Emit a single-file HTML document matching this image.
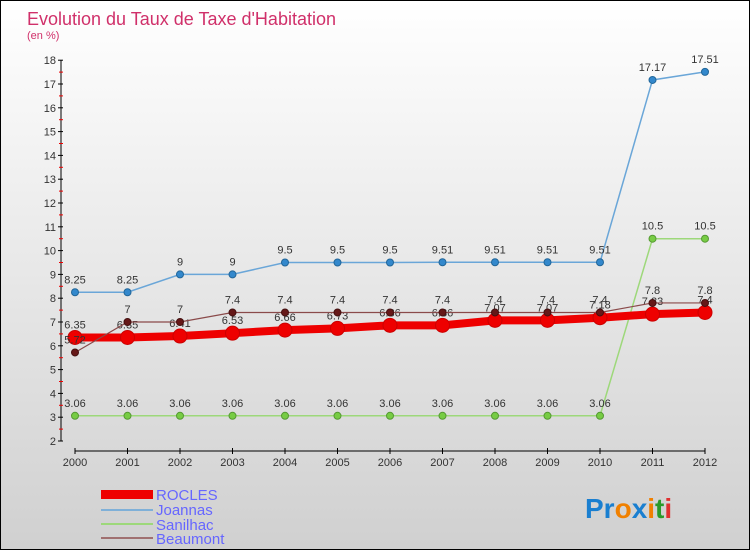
<!DOCTYPE html>
<html><head><meta charset="utf-8"><style>
body{margin:0;width:750px;height:550px;overflow:hidden;font-family:"Liberation Sans",sans-serif}
#wrap{position:relative;width:748px;height:548px;border:1px solid #000;background:linear-gradient(#ffffff,#d0d0d0)}
</style></head><body>
<div id="wrap">
<svg id="chart" width="748" height="548" xmlns="http://www.w3.org/2000/svg">
<text x="26" y="24" font-size="18" fill="#d0306a">Evolution du Taux de Taxe d'Habitation</text>
<text x="26" y="38" font-size="11" fill="#d0306a">(en %)</text>
<g id="axes"></g><g id="series"></g>
<g>
<rect x="100" y="489" width="52" height="9" fill="#e00"/>
<text x="155" y="499" font-size="15" fill="#6666ff">ROCLES</text>
<line x1="100" y1="509" x2="152" y2="509" stroke="#7fb0d8" stroke-width="2"/>
<text x="155" y="514" font-size="15" fill="#6666ff">Joannas</text>
<line x1="100" y1="523" x2="152" y2="523" stroke="#9dd87a" stroke-width="2"/>
<text x="155" y="529" font-size="15" fill="#6666ff">Sanilhac</text>
<line x1="100" y1="537" x2="152" y2="537" stroke="#a07070" stroke-width="2"/>
<text x="155" y="543" font-size="15" fill="#6666ff">Beaumont</text>
</g>
<g font-size="28" font-weight="bold">
<text x="584" y="517"><tspan fill="#1a7fd0">Pr</tspan><tspan fill="#f08000">o</tspan><tspan fill="#1a7fd0">x</tspan><tspan fill="#f08000">i</tspan><tspan fill="#2a9a2a">t</tspan><tspan fill="#e03030">i</tspan></text>
</g>
</svg></div>
<script>
const years=[2000,2001,2002,2003,2004,2005,2006,2007,2008,2009,2010,2011,2012];
const yTicks=[2,3,4,5,6,7,8,9,10,11,12,13,14,15,16,17,18];
const rocles=[6.35,6.35,6.41,6.53,6.66,6.73,6.86,6.86,7.07,7.07,7.18,7.33,7.4];
const joannas=[8.25,8.25,9,9,9.5,9.5,9.5,9.51,9.51,9.51,9.51,17.17,17.51];
const sanilhac=[3.06,3.06,3.06,3.06,3.06,3.06,3.06,3.06,3.06,3.06,3.06,10.5,10.5];
const beaumont=[5.72,7,7,7.4,7.4,7.4,7.4,7.4,7.4,7.4,7.4,7.8,7.8];
const NS="http://www.w3.org/2000/svg";
const xS=i=>74+i*52.5;
const yS=v=>440-(v-2)*23.8;
function mk(p,t,a){const e=document.createElementNS(NS,t);for(const k in a)e.setAttribute(k,a[k]);p.appendChild(e);return e;}
const ax=document.getElementById('axes');
const yaxis=mk(ax,'line',{x1:60,y1:yS(18),x2:60,y2:yS(2),stroke:'#000'});


yTicks.forEach(v=>{
 mk(ax,'line',{x1:57,x2:62,y1:yS(v),y2:yS(v),stroke:'#000'});
 if(v<18) mk(ax,'line',{x1:58,x2:62,y1:yS(v+0.5),y2:yS(v+0.5),stroke:'#e00'});
 const t=mk(ax,'text',{x:55,y:yS(v)+4,'font-size':11,fill:'#333','text-anchor':'end'});
 t.textContent=v;
 
 
});
const xaxis=mk(ax,'line',{x1:xS(0),x2:xS(12),y1:450,y2:450,stroke:'#000'});


years.forEach((y,i)=>{
 mk(ax,'line',{x1:xS(i),x2:xS(i),y1:447,y2:453,stroke:'#000'});
 const t=mk(ax,'text',{x:xS(i),y:465,'font-size':11,fill:'#333','text-anchor':'middle'});
 t.textContent=y;
 
 
});
const sg=document.getElementById('series');
function series(name,vals,color,width,r,dot,stroke){
 const g=mk(sg,'g',{});
 
 
 const pl=mk(g,'polyline',{points:vals.map((v,i)=>xS(i)+','+yS(v)).join(' '),fill:'none',stroke:color,'stroke-width':width});
 
 
 vals.forEach((v,i)=>{
  const c=mk(g,'circle',{cx:xS(i),cy:yS(v),r:r,fill:dot,stroke:stroke,'stroke-width':1});
  
  
  const t=mk(g,'text',{x:xS(i),y:yS(v)-9,'font-size':11,fill:'#333','text-anchor':'middle'});
  t.textContent=v;
  
  
 });
}
series('sanilhac',sanilhac,'#9dd87a',1.5,3.5,'#77cc44','#559933');
series('joannas',joannas,'#6aa6d8',1.5,3.5,'#3388cc','#226699');
series('rocles',rocles,'#e00',8,7,'#e00','#c00');
series('beaumont',beaumont,'#8a4a4a',1.2,3.5,'#661818','#441010');
</script>
</body></html>
